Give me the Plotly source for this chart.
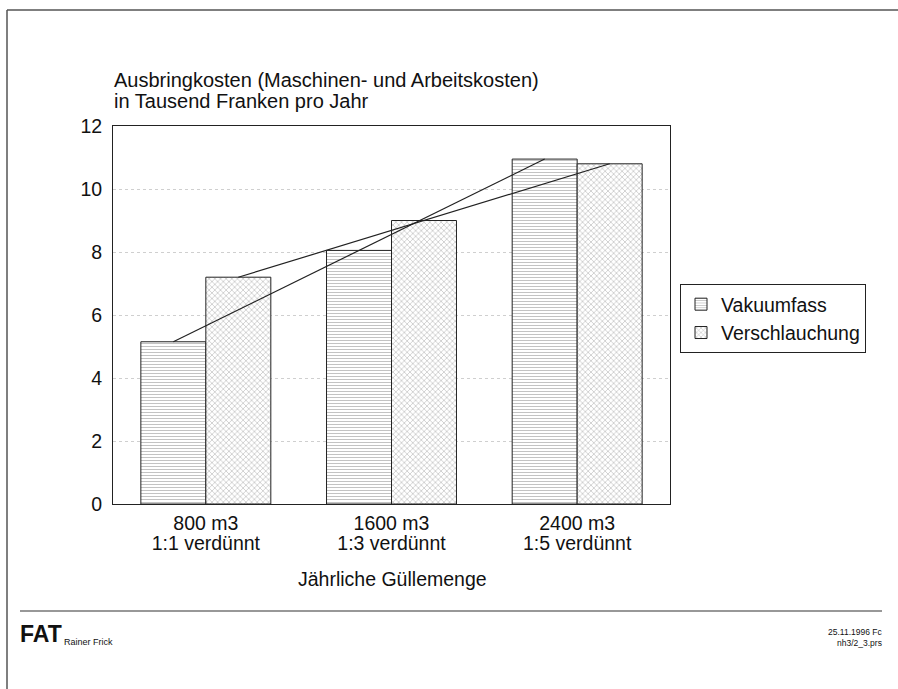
import plotly.graph_objects as go

# data
categories = ["800 m3<br>1:1 verdünnt", "1600 m3<br>1:3 verdünnt", "2400 m3<br>1:5 verdünnt"]
vakuumfass = [5.15, 8.05, 10.95]
verschlauchung = [7.2, 9.0, 10.8]
y_ticks = [0, 2, 4, 6, 8, 10, 12]

# plot area in pixels
W, H = 898, 689
L, R, T, B = 113, 670, 126, 504
BAR_W = 0.35

FONT = "Liberation Sans, Arial, sans-serif"


def px(x):
    return (x - L) / (R - L)


def py(y):
    return (B - y) / (B - T)


def tight(label, size=19.5):
    # render each line at full size, but keep the tighter line spacing of the base font
    return "<br>".join(f'<span style="font-size:{size}px">{part}</span>' for part in label.split("<br>"))


xs = list(range(len(categories)))

fig = go.Figure()

fig.add_trace(go.Bar(
    name="Vakuumfass",
    x=xs, y=vakuumfass,
    offset=-BAR_W, width=BAR_W,
    marker=dict(color="white", line=dict(color="#222", width=1),
                pattern=dict(shape="-", fgcolor="#888", bgcolor="white", size=3, solidity=0.35)),
))
fig.add_trace(go.Bar(
    name="Verschlauchung",
    x=xs, y=verschlauchung,
    offset=0, width=BAR_W,
    marker=dict(color="white", line=dict(color="#222", width=1),
                pattern=dict(shape="x", fgcolor="#777", bgcolor="white", size=4, solidity=0.3)),
))

# trend lines joining the bar tops
fig.add_trace(go.Scatter(
    x=[x - BAR_W / 2 for x in xs], y=vakuumfass, mode="lines",
    line=dict(color="#222", width=1.2), showlegend=False, hoverinfo="skip",
))
fig.add_trace(go.Scatter(
    x=[x + BAR_W / 2 for x in xs], y=verschlauchung, mode="lines",
    line=dict(color="#222", width=1.2), showlegend=False, hoverinfo="skip",
))

fig.update_layout(
    width=W, height=H,
    margin=dict(l=L, r=W - R, t=T, b=H - B, pad=0),
    paper_bgcolor="white", plot_bgcolor="white",
    font=dict(family=FONT, color="#111", size=20),
    barmode="overlay",
    showlegend=True,
    legend=dict(
        x=px(680), y=py(284), xanchor="left", yanchor="top",
        bordercolor="#222", borderwidth=1, bgcolor="white",
        font=dict(size=19.5, family=FONT), traceorder="normal",
        itemwidth=30, tracegroupgap=0,
    ),
    xaxis=dict(
        range=[-0.5, 2.5], tickvals=xs, ticktext=[tight(c) for c in categories],
        showgrid=False, zeroline=False, ticks="",
        showline=True, linecolor="#222", linewidth=1, mirror=True,
        tickfont=dict(size=15.5), ticklabelstandoff=6,
    ),
    yaxis=dict(
        range=[0, 12], tickvals=y_ticks,
        showgrid=True, gridcolor="#cfcfcf", griddash="dot", gridwidth=1,
        zeroline=False, ticks="",
        showline=True, linecolor="#222", linewidth=1, mirror=True,
        tickfont=dict(size=19.5), ticklabelstandoff=6,
    ),
)

annotations = [
    dict(text="Ausbringkosten (Maschinen- und Arbeitskosten)", x=px(112), y=py(80), font=dict(size=20)),
    dict(text="in Tausend Franken pro Jahr", x=px(112), y=py(101), font=dict(size=20)),
    dict(text="Jährliche Güllemenge", x=px(392), y=py(579), xanchor="center", font=dict(size=19.5)),
    dict(text="<b>FAT</b>", x=px(18), y=py(634), font=dict(size=23, family="Liberation Sans")),
    dict(text="Rainer Frick", x=px(62), y=py(642), font=dict(size=9)),
    dict(text="25.11.1996 Fc", x=px(884), y=py(632), xanchor="right", font=dict(size=8.5)),
    dict(text="nh3/2_3.prs", x=px(884), y=py(643), xanchor="right", font=dict(size=8.5)),
]
for a in annotations:
    a.setdefault("xanchor", "left")
    fig.add_annotation(xref="paper", yref="paper", yanchor="middle", showarrow=False, **a)

# page frame and footer rule
fig.add_shape(type="line", xref="paper", yref="paper", x0=px(7), x1=px(898), y0=py(10), y1=py(10),
              line=dict(color="#555", width=1.5))
fig.add_shape(type="line", xref="paper", yref="paper", x0=px(7), x1=px(7), y0=py(10), y1=py(689),
              line=dict(color="#555", width=1.5))
fig.add_shape(type="line", xref="paper", yref="paper", x0=px(20), x1=px(882), y0=py(611), y1=py(611),
              line=dict(color="#333", width=1.2))

fig.write_html("out.html", config={"displayModeBar": False},
               post_script="document.body.style.margin='0';")
